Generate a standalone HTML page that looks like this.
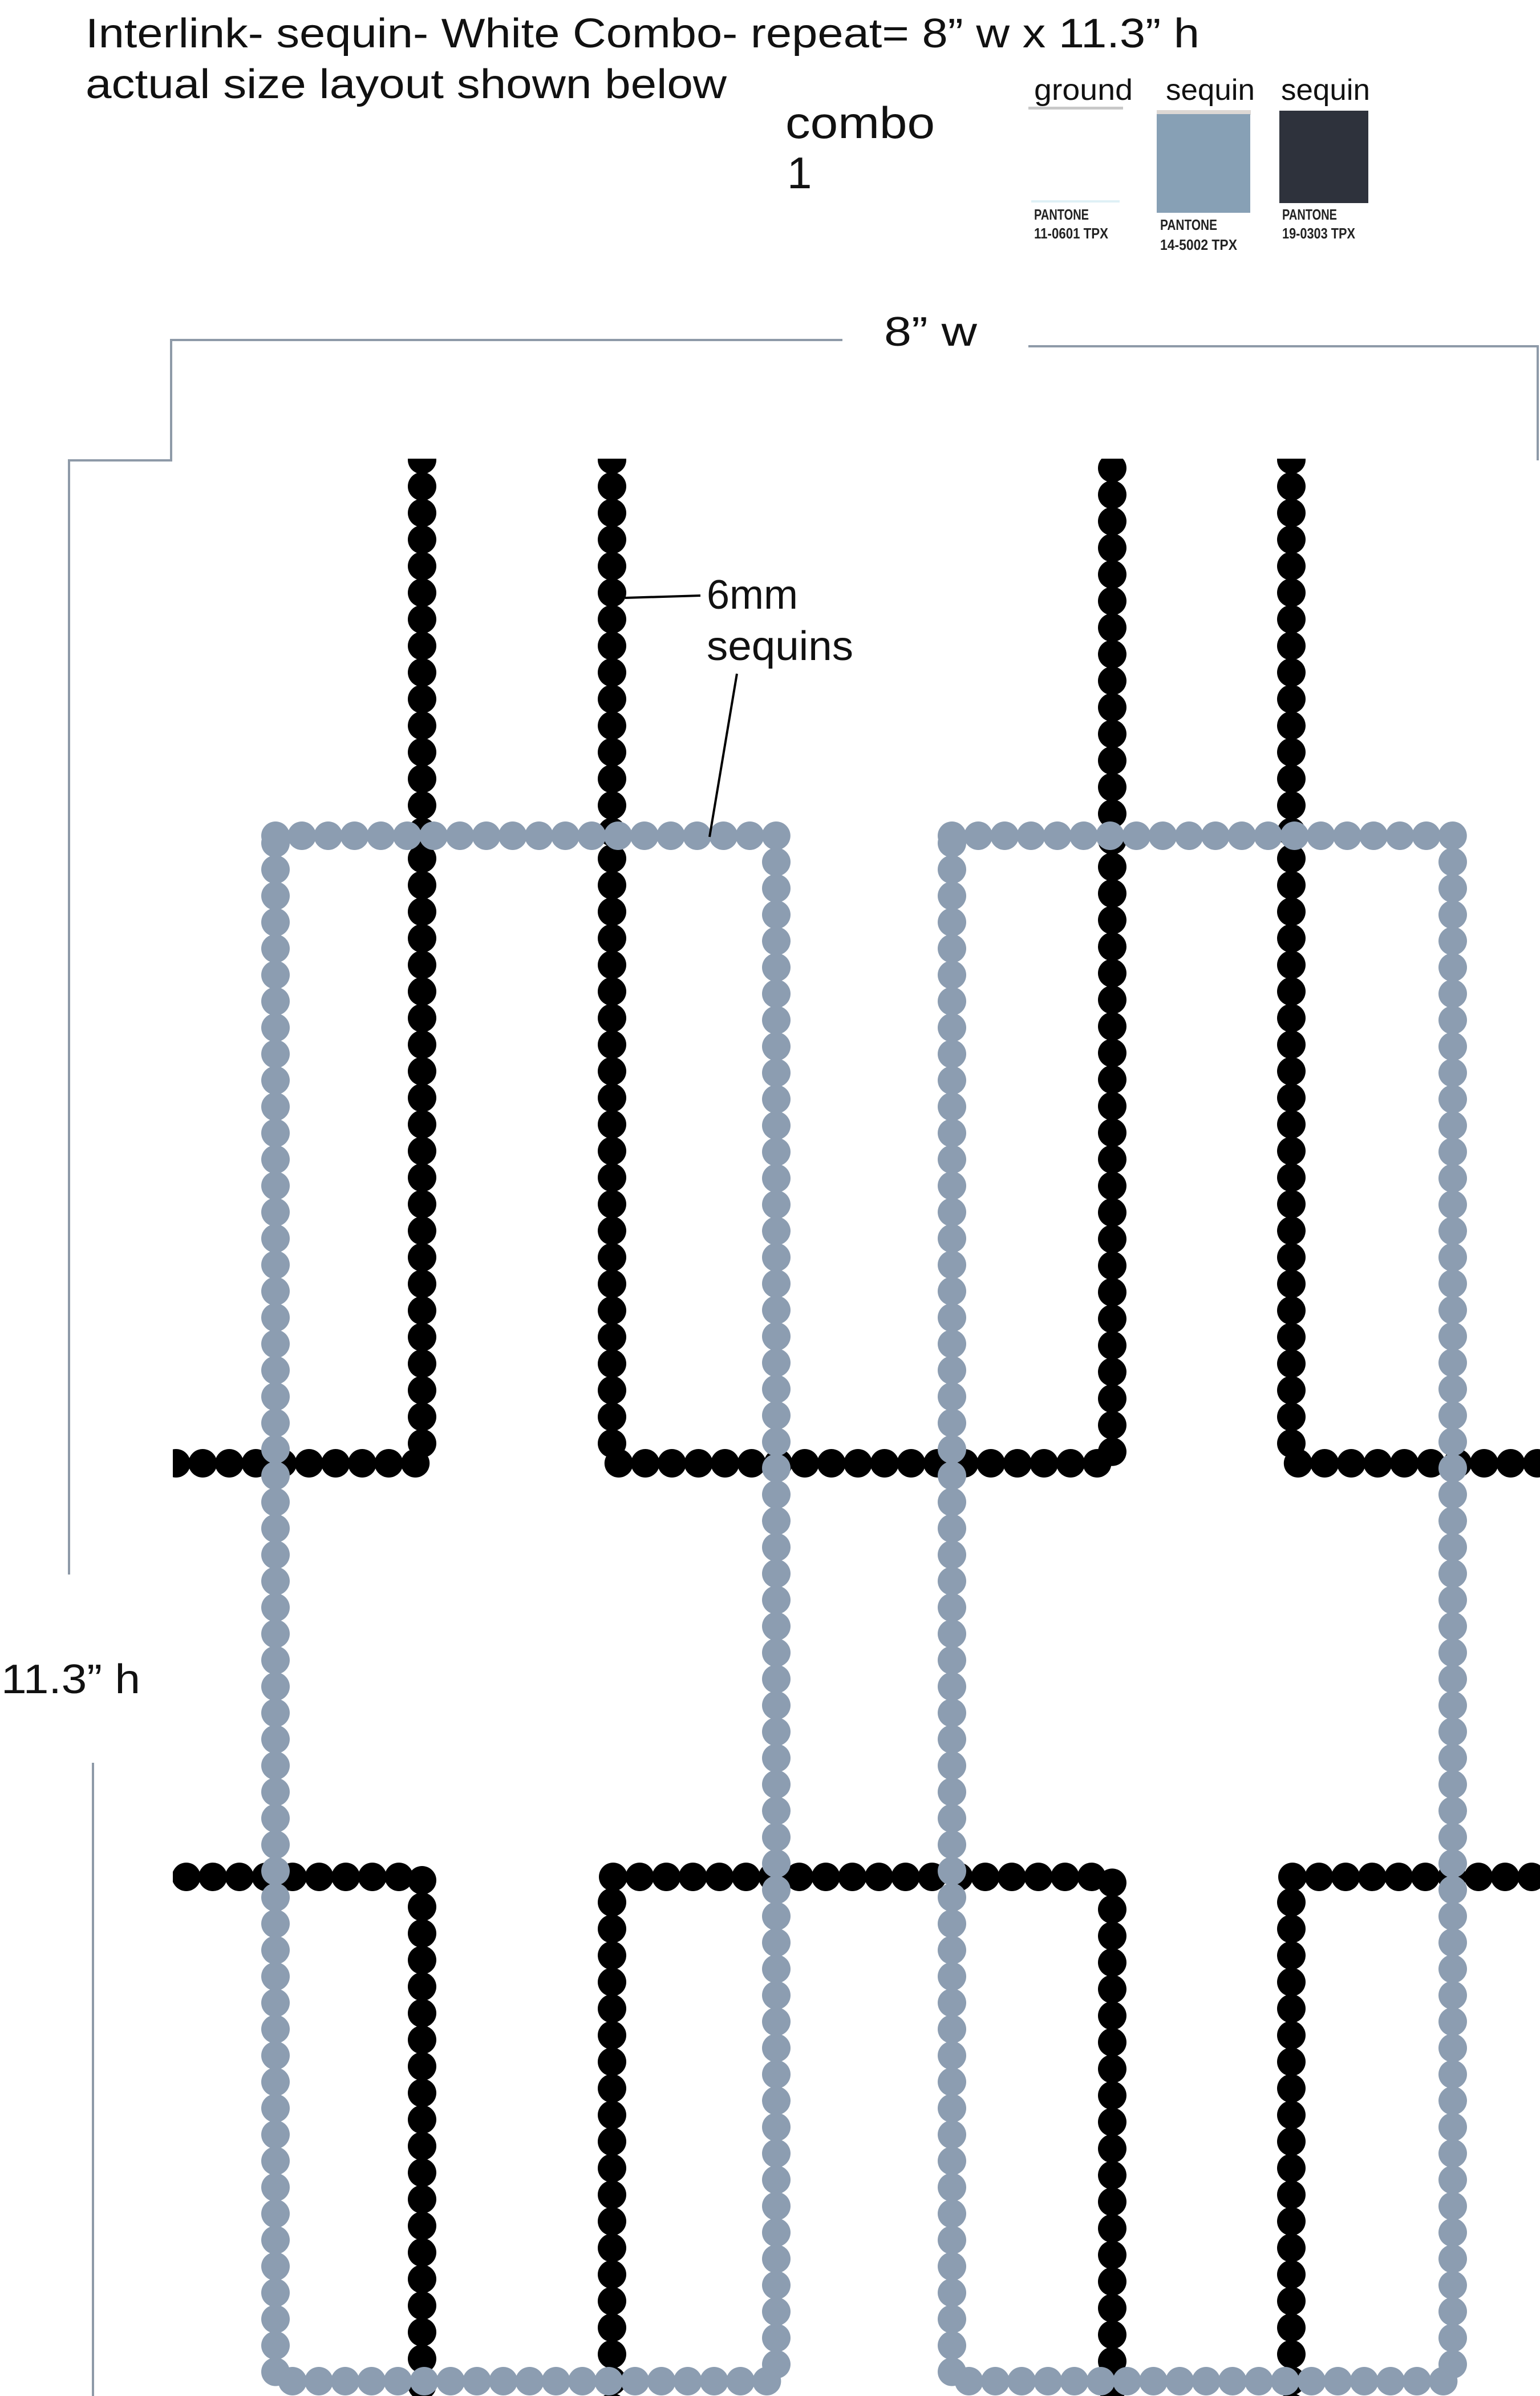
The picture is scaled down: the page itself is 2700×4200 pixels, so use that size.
<!DOCTYPE html>
<html><head><meta charset="utf-8"><style>
html,body{margin:0;padding:0;background:#fff;}
svg{display:block;}
text{font-family:"Liberation Sans",sans-serif;}
</style></head><body>
<svg width="2700" height="4200" viewBox="0 0 2700 4200" xmlns="http://www.w3.org/2000/svg">
<rect width="2700" height="4200" fill="#fff"/>
<text x="150" y="83" font-size="72" textLength="1953" lengthAdjust="spacingAndGlyphs" fill="#111">Interlink- sequin- White Combo- repeat= 8” w x 11.3” h</text>
<text x="150" y="172" font-size="72" textLength="1124" lengthAdjust="spacingAndGlyphs" fill="#111">actual size layout shown below</text>
<text x="1377" y="242" font-size="78" textLength="262" lengthAdjust="spacingAndGlyphs" fill="#111">combo</text>
<text x="1380" y="330" font-size="78" fill="#111">1</text>
<text x="1813" y="175" font-size="52" textLength="173" lengthAdjust="spacingAndGlyphs" fill="#111">ground</text>
<text x="2044" y="175" font-size="52" textLength="156" lengthAdjust="spacingAndGlyphs" fill="#111">sequin</text>
<text x="2246" y="175" font-size="52" textLength="156" lengthAdjust="spacingAndGlyphs" fill="#111">sequin</text>
<rect x="1803" y="187" width="166" height="5" fill="#c8c8c8"/>
<rect x="1808" y="351" width="155" height="4" fill="#dff0f6"/>
<rect x="2028" y="193" width="165" height="8" fill="#ddd8d4"/>
<rect x="2028" y="200" width="164" height="173" fill="#87a0b5"/>
<rect x="2243" y="194" width="156" height="162" fill="#2e323c"/>
<g font-size="26" font-weight="bold" fill="#222">
<text x="1813" y="385" textLength="96" lengthAdjust="spacingAndGlyphs">PANTONE</text>
<text x="1813" y="418" textLength="130" lengthAdjust="spacingAndGlyphs">11-0601 TPX</text>
<text x="2034" y="403" textLength="100" lengthAdjust="spacingAndGlyphs">PANTONE</text>
<text x="2034" y="438" textLength="135" lengthAdjust="spacingAndGlyphs">14-5002 TPX</text>
<text x="2248" y="385" textLength="96" lengthAdjust="spacingAndGlyphs">PANTONE</text>
<text x="2248" y="418" textLength="128" lengthAdjust="spacingAndGlyphs">19-0303 TPX</text>
</g>
<g stroke="#8e9aa8" stroke-width="4" fill="none">
<polyline points="1477,596 300,596 300,807 121,807 121,2760"/>
<polyline points="1803,607 2696,607 2696,807"/>
<line x1="163" y1="3090" x2="163" y2="4200"/>
</g>
<text x="1550" y="606" font-size="72" textLength="163" lengthAdjust="spacingAndGlyphs" fill="#111">8” w</text>
<text x="2" y="2968" font-size="72" textLength="244" lengthAdjust="spacingAndGlyphs" fill="#111">11.3” h</text>
<defs><clipPath id="c"><rect x="303" y="804" width="2397" height="3396"/></clipPath></defs>
<g clip-path="url(#c)" fill="none" stroke="#000" stroke-width="50" stroke-linecap="round" stroke-dasharray="0 46.6">
<path d="M740 806 L740 2565 L280 2565"/>
<path d="M1073 806 L1073 2565 L1950 2565 L1950 806"/>
<path d="M2264 806 L2264 2565 L2720 2565"/>
<path d="M280 3290 L740 3290 L740 4220"/>
<path d="M1073 4220 L1073 3290 L1950 3290 L1950 4220"/>
<path d="M2264 4220 L2264 3290 L2720 3290"/>
</g>
<g fill="none" stroke="#8c9db1" stroke-width="50" stroke-linecap="round" stroke-dasharray="0 46.2">
<path d="M483 1465 L1361 1465 L1361 4174 L483 4174 Z"/>
<path d="M1669 1465 L2547 1465 L2547 4174 L1669 4174 Z"/>
</g>
<g stroke="#000" stroke-width="4">
<line x1="1096" y1="1048" x2="1228" y2="1044"/>
<line x1="1292" y1="1181" x2="1244" y2="1467"/>
</g>
<text x="1239" y="1067" font-size="72" fill="#111">6mm</text>
<text x="1239" y="1157" font-size="72" textLength="257" lengthAdjust="spacingAndGlyphs" fill="#111">sequins</text>
</svg>
</body></html>
